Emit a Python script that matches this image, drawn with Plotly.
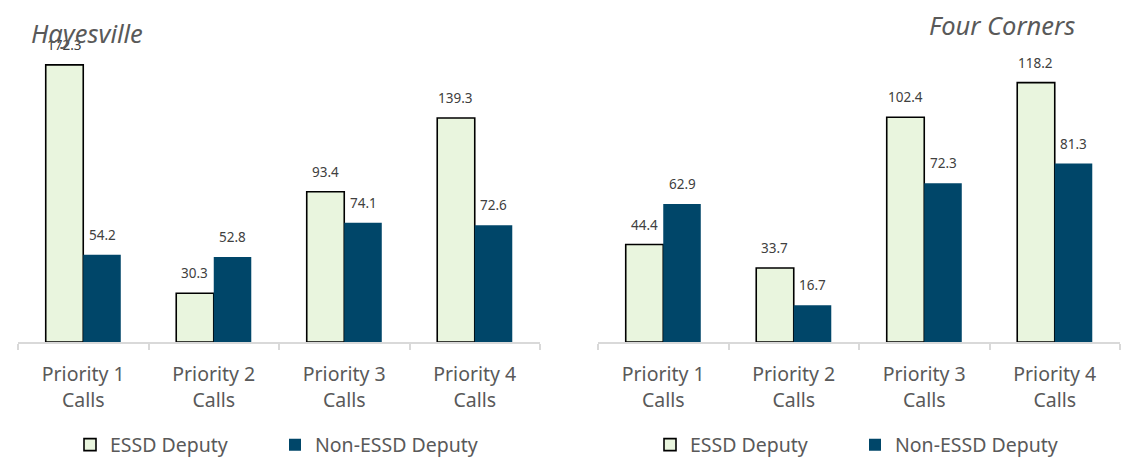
import plotly.graph_objects as go

categories = ["Priority 1<br>Calls", "Priority 2<br>Calls", "Priority 3<br>Calls", "Priority 4<br>Calls"]
hay_essd = [172.3, 30.3, 93.4, 139.3]
hay_non = [54.2, 52.8, 74.1, 72.6]
fc_essd = [44.4, 33.7, 102.4, 118.2]
fc_non = [62.9, 16.7, 72.3, 81.3]
series_names = ["ESSD Deputy", "Non-ESSD Deputy"]
titles = ["Hayesville", "Four Corners"]

ESSD_FILL = "#E9F5DE"
NON_FILL = "#004669"
GREY = "#595959"
FONT = "Noto Sans"

W, H = 1130, 450  # page body has an 8px margin

fig = go.Figure()

panels = [
    (hay_essd, hay_non, "x", "y", "legend"),
    (fc_essd, fc_non, "x2", "y2", "legend2"),
]

for essd, non, xa, ya, lg in panels:
    fig.add_trace(go.Bar(
        x=categories, y=essd, name=series_names[0], xaxis=xa, yaxis=ya, legend=lg,
        marker=dict(color=ESSD_FILL, line=dict(color="black", width=1.6)),
        offsetgroup="a", hoverinfo="skip",
    ))
    fig.add_trace(go.Bar(
        x=categories, y=non, name=series_names[1], xaxis=xa, yaxis=ya, legend=lg,
        marker=dict(color=NON_FILL, line=dict(width=0)),
        offsetgroup="b", hoverinfo="skip",
    ))
    for cat, v1, v2 in zip(categories, essd, non):
        for v, sh in ((v1, -19), (v2, 19)):
            fig.add_annotation(
                x=cat, y=v, xref=xa, yref=ya, text=f"{v:.1f}", showarrow=False,
                xshift=sh, yshift=20, font=dict(family=FONT, size=13.5, color="#404040"),
            )

axis_common = dict(
    showline=True, linecolor="#D9D9D9", linewidth=1.5,
    ticks="outside", tickson="boundaries", ticklen=6, tickcolor="#D9D9D9", tickwidth=1.5,
    ticklabelstandoff=14,
    tickfont=dict(family=FONT, size=19.5, color=GREY), showgrid=False, zeroline=False,
    type="category",
)
yaxis_common = dict(visible=False, showgrid=False, zeroline=False, fixedrange=True)

legend_common = dict(
    orientation="h", yref="container", y=1 - 437 / H, yanchor="middle", xanchor="left",
    font=dict(family=FONT, size=19.5, color=GREY), itemclick=False, traceorder="normal",
    itemwidth=30, entrywidth=160, entrywidthmode="pixels",
)

fig.update_layout(
    width=W, height=H,
    margin=dict(l=0, r=0, t=27, b=116),
    plot_bgcolor="white", paper_bgcolor="white",
    barmode="group", bargap=0.425, bargroupgap=0,
    font=dict(family=FONT, color=GREY),
    xaxis=dict(domain=[10 / W, 532 / W], anchor="y", **axis_common),
    xaxis2=dict(domain=[590 / W, 1112 / W], anchor="y2", **axis_common),
    yaxis=dict(domain=[0, 1], anchor="x", range=[0, 190.9], **yaxis_common),
    yaxis2=dict(domain=[0, 1], anchor="x2", range=[0, 139.9], **yaxis_common),
    legend=dict(x=62 / W, **legend_common),
    legend2=dict(x=642 / W, **legend_common),
    showlegend=True,
)

fig.add_annotation(x=21 / W, y=1.0065, xref="paper", yref="paper", text="<i>Hayesville</i>",
                   showarrow=False, xanchor="left", yanchor="middle",
                   font=dict(family=FONT, size=25.5, color=GREY))
fig.add_annotation(x=1069 / W, y=1.0326, xref="paper", yref="paper", text="<i>Four Corners</i>",
                   showarrow=False, xanchor="right", yanchor="middle",
                   font=dict(family=FONT, size=25.5, color=GREY))

fig.write_html("out.html")
